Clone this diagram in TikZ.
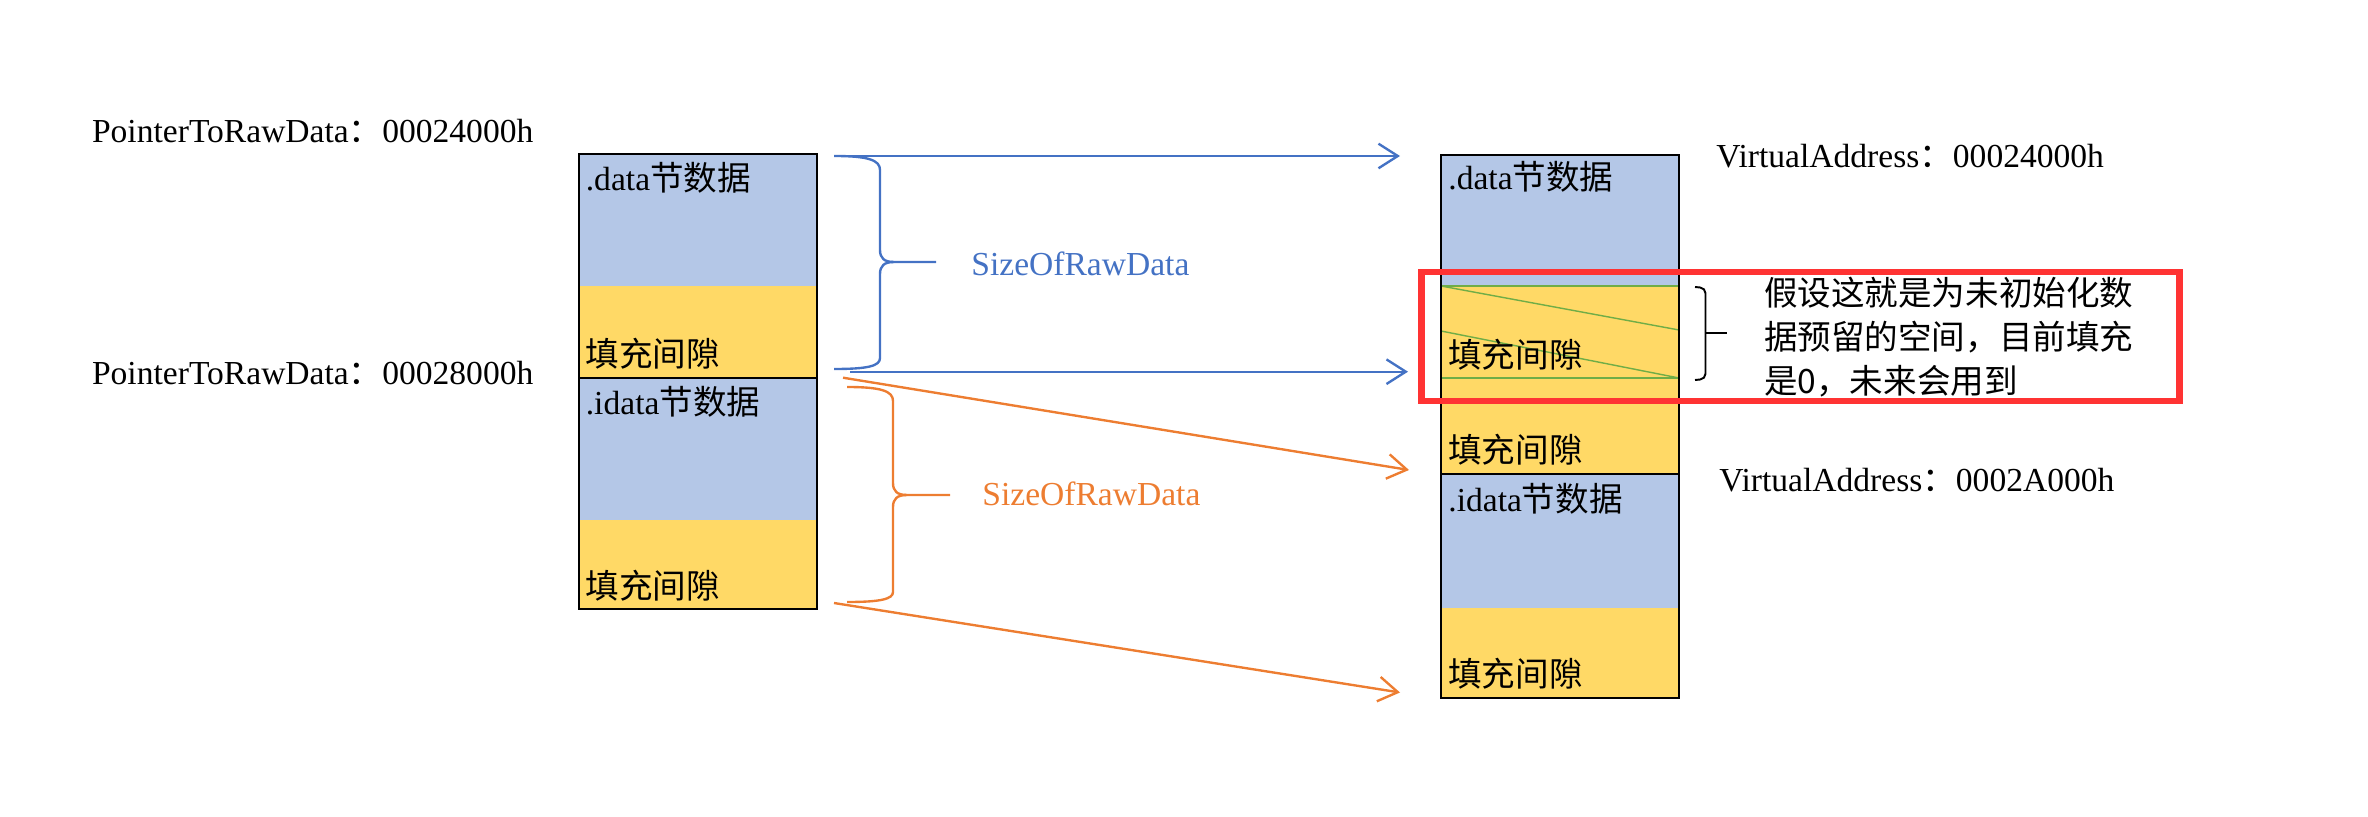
\documentclass[tikz,border=0pt]{standalone}
\usepackage{fontspec}
\setmainfont{Liberation Serif}
\newfontfamily\cjk{Noto Sans CJK SC}
\usetikzlibrary{arrows.meta}
\definecolor{secblue}{HTML}{B4C7E7}
\definecolor{secgold}{HTML}{FFD966}
\definecolor{arrblue}{HTML}{4472C4}
\definecolor{arrorange}{HTML}{ED7D31}
\definecolor{hatchgreen}{HTML}{70AD47}
\definecolor{markred}{HTML}{FF3333}
\begin{document}
\begin{tikzpicture}[x=0.02cm,y=-0.02cm,
  lbl/.style={anchor=base west, inner sep=0pt, font=\fontsize{19.1pt}{23pt}\selectfont},
  secline/.style={draw=black, line width=1.2pt},
  conn/.style={line width=1.35pt, -{Straight Barb[length=11pt,width=14pt]}},
  bracestyle/.style={line width=1.35pt, line join=round},
  hatch/.style={hatchgreen, line width=0.8pt},
  ]
\useasboundingbox (0,0) rectangle (2368,817);

% ---- left column (file) ----
\fill[secblue] (578.7,154) rectangle (817,285.7);
\fill[secgold] (578.7,285.7) rectangle (817,378);
\fill[secblue] (578.7,378) rectangle (817,520);
\fill[secgold] (578.7,520) rectangle (817,609);
\draw[secline] (578.7,154) rectangle (817,378);
\draw[secline] (578.7,378) rectangle (817,609);

% ---- right column (memory) ----
\fill[secblue] (1441,155) rectangle (1679,286);
\fill[secgold] (1441,286) rectangle (1679,473.7);
\fill[secblue] (1441,473.7) rectangle (1679,608);
\fill[secgold] (1441,608) rectangle (1679,697.7);
\draw[hatch, line width=1.3pt] (1441,286) -- (1679,286);
\draw[hatch, line width=1.3pt] (1441,378) -- (1679,378);
\draw[hatch] (1441,286) -- (1679,330);
\draw[hatch] (1441,331) -- (1679,378);
\draw[secline] (1441,155) rectangle (1679,473.7);
\draw[secline] (1441,473.7) rectangle (1679,697.7);

% ---- section texts ----
\node[lbl] (ldata) at (585.5,190.5) {.data{\cjk 节数据}};
\node[lbl] (lpad1) at (585.5,366) {\cjk 填充间隙};
\node[lbl] (lidata) at (585.5,414.5) {.idata{\cjk 节数据}};
\node[lbl] (lpad2) at (585.5,598) {\cjk 填充间隙};

\node[lbl] (rdata) at (1448,189.5) {.data{\cjk 节数据}};
\node[lbl] (rpad1) at (1448,367) {\cjk 填充间隙};
\node[lbl] (rpad2) at (1448,462.5) {\cjk 填充间隙};
\node[lbl] (ridata) at (1448,511.5) {.idata{\cjk 节数据}};
\node[lbl] (rpad3) at (1448,686) {\cjk 填充间隙};

% ---- address labels ----
\node[lbl] (p1) at (91.7,142.7) {PointerToRawData{\cjk ：}00024000h};
\node[lbl] (p2) at (91.7,384) {PointerToRawData{\cjk ：}00028000h};
\node[lbl] (v1) at (1716,168) {VirtualAddress{\cjk ：}00024000h};
\node[lbl] (v2) at (1719,491) {VirtualAddress{\cjk ：}0002A000h};
\node[lbl, text=arrblue] (s1) at (971,275.7) {SizeOfRawData};
\node[lbl, text=arrorange] (s2) at (982,505) {SizeOfRawData};

% ---- braces ----
\draw[bracestyle, arrblue] (834,156) .. controls (868,156) and (880,160) .. (880,170)
  -- (880,250) .. controls (880,258) and (884,262) .. (894,262) -- (936,262);
\draw[bracestyle, arrblue] (894,262) .. controls (884,262) and (880,266) .. (880,274)
  -- (880,358) .. controls (880,366) and (868,369) .. (834,369);
\draw[bracestyle, arrorange] (847,387) .. controls (881,387) and (893,391) .. (893,401)
  -- (893,483) .. controls (893,491) and (897,495) .. (907,495) -- (950,495);
\draw[bracestyle, arrorange] (907,495) .. controls (897,495) and (893,499) .. (893,507)
  -- (893,592) .. controls (893,599) and (881,602) .. (847,602);

% ---- connectors ----
\coordinate (a1s) at (834,156);   \coordinate (a1e) at (1400,156);
\coordinate (a2s) at (850,371.7); \coordinate (a2e) at (1408,371.7);
\coordinate (a3s) at (843,377.7); \coordinate (a3e) at (1409,470);
\coordinate (a4s) at (834,603);   \coordinate (a4e) at (1400,692.5);
\draw[conn, arrblue] (a1s) -- (a1e);
\draw[conn, arrblue] (a2s) -- (a2e);
\draw[conn, arrorange] (a3s) -- (a3e);
\draw[conn, arrorange] (a4s) -- (a4e);

% ---- annotation ----
\draw[markred, line width=3.8pt] (1421.4,272) rectangle (2179.6,401);
\draw[black, line width=1.1pt, rounded corners=3pt] (1695,287) -- (1705.5,288) -- (1705.5,379) -- (1695,380);
\draw[black, line width=1.1pt] (1705.5,333) -- (1726.5,333);
\node[lbl] (n1) at (1763.8,305.3) {\cjk 假设这就是为未初始化数};
\node[lbl] (n2) at (1763.8,349.4) {\cjk 据预留的空间，目前填充};
\node[lbl] (n3) at (1763.8,393) {\cjk 是0，未来会用到};
\end{tikzpicture}
\end{document}
